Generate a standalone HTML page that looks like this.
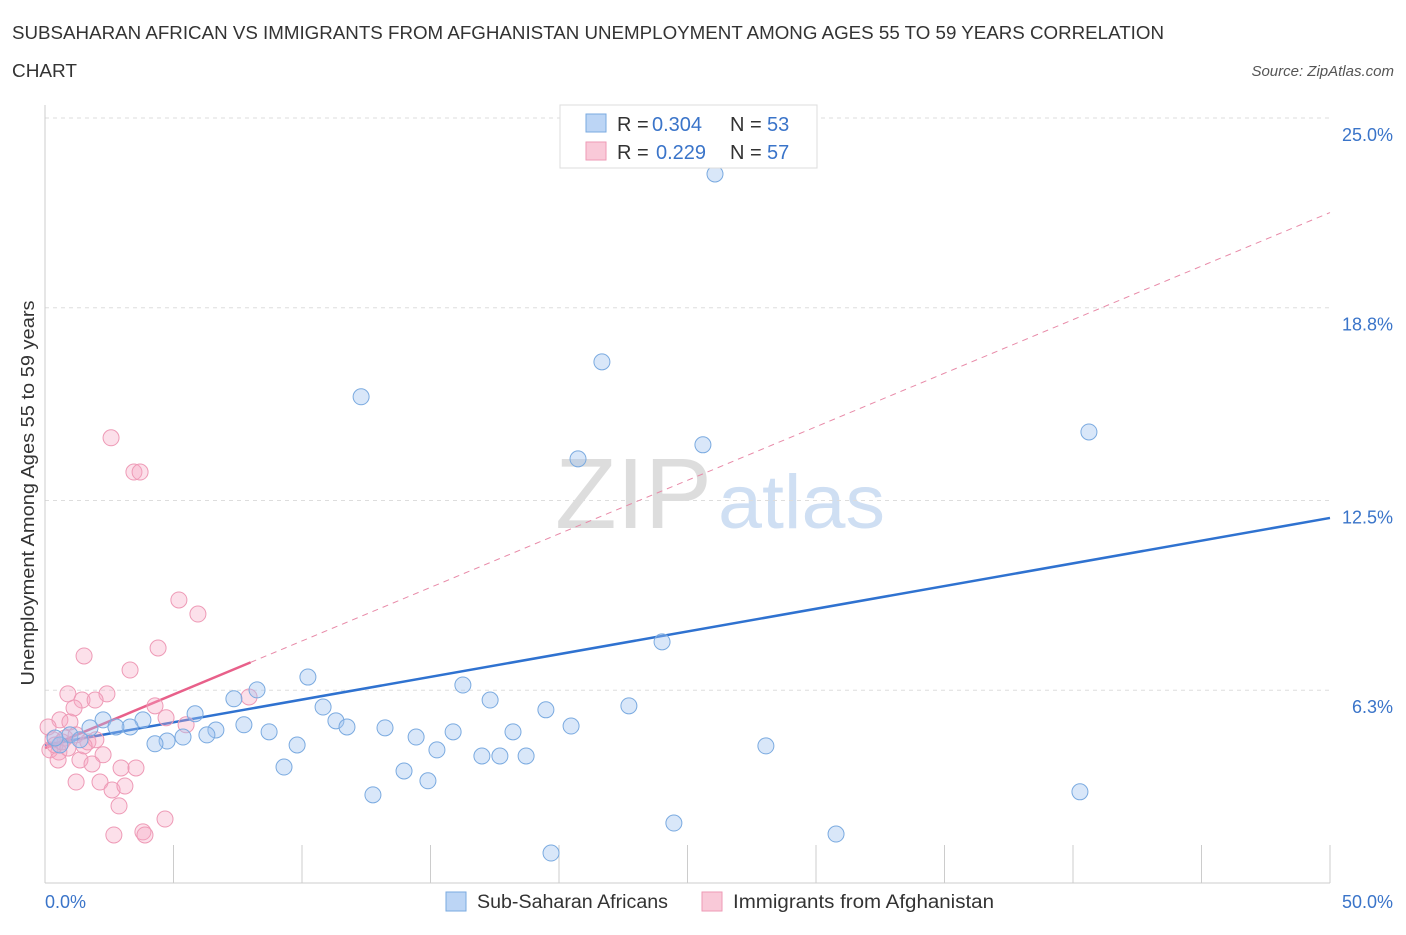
<!DOCTYPE html>
<html><head><meta charset="utf-8"><style>
body{margin:0;background:#fff;font-family:"Liberation Sans",sans-serif;}
svg text{font-family:"Liberation Sans",sans-serif;}
</style></head><body>
<svg id="chart" width="1406" height="930" xmlns="http://www.w3.org/2000/svg">
<text x="12" y="39" font-size="18" fill="#333" textLength="1152" lengthAdjust="spacingAndGlyphs">SUBSAHARAN AFRICAN VS IMMIGRANTS FROM AFGHANISTAN UNEMPLOYMENT AMONG AGES 55 TO 59 YEARS CORRELATION</text>
<text x="12" y="77" font-size="18" fill="#333" textLength="65" lengthAdjust="spacingAndGlyphs">CHART</text>
<text x="1394" y="76" font-size="15" fill="#555" font-style="italic" text-anchor="end">Source: ZipAtlas.com</text>
<g>
<text x="555" y="528" font-size="100" fill="#ddd" font-family="Liberation Serif,serif" textLength="157" lengthAdjust="spacingAndGlyphs">ZIP</text>
<text x="718" y="528" font-size="76" fill="#cfdff3" textLength="167" lengthAdjust="spacingAndGlyphs">atlas</text>
</g>
<g id="grid"></g>
<g id="axes"></g>
<g id="lines"></g>
<g id="points"></g>
<text transform="translate(34,493) rotate(-90)" font-size="18" fill="#333" text-anchor="middle" textLength="385" lengthAdjust="spacingAndGlyphs">Unemployment Among Ages 55 to 59 years</text>
<g>
<rect x="560" y="105" width="257" height="63" fill="#fff" stroke="#ddd"/>
<rect x="586" y="114" width="20" height="18" fill="#bcd5f5" stroke="#7aaae0"/>
<rect x="586" y="142" width="20" height="18" fill="#f9c9d8" stroke="#ee9ab6"/>
<text x="617" y="131" font-size="20" fill="#333">R = <tspan x="652" fill="#3a74c9">0.304</tspan><tspan x="730">N = </tspan><tspan x="767" fill="#3a74c9">53</tspan></text>
<text x="617" y="159" font-size="20" fill="#333">R = <tspan x="656" fill="#3a74c9">0.229</tspan><tspan x="730">N = </tspan><tspan x="767" fill="#3a74c9">57</tspan></text>
</g>
<g>
<rect x="446" y="892" width="20" height="19" fill="#bcd5f5" stroke="#7aaae0"/>
<text x="477" y="908" font-size="19" fill="#333" textLength="191" lengthAdjust="spacingAndGlyphs">Sub-Saharan Africans</text>
<rect x="702" y="892" width="20" height="19" fill="#f9c9d8" stroke="#ee9ab6"/>
<text x="733" y="908" font-size="19" fill="#333" textLength="261" lengthAdjust="spacingAndGlyphs">Immigrants from Afghanistan</text>
</g>
</svg>
<script>
const yTicks=[25.0,18.8,12.5,6.3];
const yTickLabels=["25.0%","18.8%","12.5%","6.3%"];
const xTickLabels=["0.0%","50.0%"];
const blueX=[26.07,21.67,12.30,25.60,20.74,40.62,24.01,10.23,8.25,16.26,17.32,7.35,22.72,19.49,10.82,5.84,11.32,11.75,13.23,14.44,15.88,18.21,20.47,8.72,7.74,6.65,6.30,5.37,4.75,4.28,3.81,3.31,2.26,2.76,9.81,15.25,17.00,17.70,18.72,9.30,13.97,14.90,12.76,28.05,40.27,24.47,30.78,19.69,1.75,0.97,0.58,1.36,0.39];
const blueY=[23.17,17.03,15.89,14.32,13.86,14.74,7.88,6.73,6.31,6.47,5.98,6.02,5.79,5.66,5.75,5.53,5.30,5.10,5.07,4.77,4.94,4.94,5.13,4.94,5.17,5.00,4.84,4.77,4.64,4.55,5.33,5.10,5.33,5.10,4.51,4.35,4.15,4.15,4.15,3.79,3.66,3.34,2.88,4.48,2.98,1.96,1.60,0.98,5.07,4.84,4.51,4.68,4.74];
const pinkX=[2.57,3.46,3.70,5.21,5.95,1.52,4.40,3.31,0.89,2.41,1.44,1.95,7.94,4.28,1.13,4.71,5.49,0.58,0.97,0.12,0.31,0.78,1.21,1.67,1.98,2.26,1.36,1.83,0.54,2.96,3.54,1.21,2.14,2.61,3.11,2.88,4.67,2.68,3.81,3.89,0.19,0.39,0.66,1.52,0.89,0.51,21.4];
const pinkY=[14.55,13.43,13.43,9.25,8.79,7.42,7.68,6.96,6.18,6.18,5.98,5.98,6.08,5.79,5.72,5.40,5.17,5.33,5.26,5.10,4.68,4.74,4.84,4.61,4.68,4.19,4.02,3.89,4.28,3.76,3.76,3.30,3.30,3.04,3.17,2.52,2.09,1.57,1.67,1.57,4.35,4.51,4.61,4.48,4.41,4.02,23.83];
const blueTrend=[4.51,11.93];
const pinkTrend=[4.41,0.35];
const NS="http://www.w3.org/2000/svg";
function xs(v){return 45+v*25.7;}
function ys(v){return 883-v*30.6;}
function mk(tag,attrs,parent){const e=document.createElementNS(NS,tag);for(const k in attrs)e.setAttribute(k,attrs[k]);parent.appendChild(e);return e;}
const grid=document.getElementById('grid'),axes=document.getElementById('axes'),lines=document.getElementById('lines'),pts=document.getElementById('points');
yTicks.forEach((t,i)=>{
 const l=mk('line',{x1:45,x2:1330,y1:ys(t),y2:ys(t),stroke:'#ddd','stroke-dasharray':'4,4'},grid);
 
 
 const tx=mk('text',{x:1393,y:ys(t)+23,'font-size':18,fill:'#3a74c9','text-anchor':'end'},axes);
 tx.textContent=yTickLabels[i];
 
 
});
const ya=mk('line',{x1:45,x2:45,y1:105,y2:883,stroke:'#ccc'},axes);


const xa=mk('line',{x1:45,x2:1330,y1:883,y2:883,stroke:'#ccc'},axes);


for(let v=5;v<=50;v+=5){
 const tk=mk('line',{x1:xs(v),x2:xs(v),y1:845,y2:883,stroke:'#ccc'},axes);
 
 
}
[[0,'start',45],[50,'end',1393]].forEach((d,i)=>{
 const t=mk('text',{x:d[2],y:908,'font-size':18,fill:'#3a74c9','text-anchor':d[1]},axes);
 t.textContent=xTickLabels[i];
 
 
});
pinkX.forEach((x,i)=>{
 const c=mk('circle',{cx:xs(x),cy:ys(pinkY[i]),r:8,fill:'rgba(245,165,195,0.35)',stroke:'#ee9ab6','stroke-width':1},pts);
 
 
});
blueX.forEach((x,i)=>{
 const c=mk('circle',{cx:xs(x),cy:ys(blueY[i]),r:8,fill:'rgba(160,196,240,0.4)',stroke:'#7aaae0','stroke-width':1},pts);
 
 
});
const bl=mk('line',{x1:xs(0),y1:ys(blueTrend[0]),x2:xs(50),y2:ys(blueTrend[1]),stroke:'#2f72d0','stroke-width':2.5},lines);


const pd=mk('line',{x1:xs(8),y1:ys(pinkTrend[0]+pinkTrend[1]*8),x2:xs(50),y2:ys(pinkTrend[0]+pinkTrend[1]*50),stroke:'#e88aa8','stroke-width':1,'stroke-dasharray':'6,5'},lines);


const ps=mk('line',{x1:xs(0),y1:ys(pinkTrend[0]),x2:xs(8),y2:ys(pinkTrend[0]+pinkTrend[1]*8),stroke:'#e8608a','stroke-width':2.5},lines);


</script>
</body></html>
